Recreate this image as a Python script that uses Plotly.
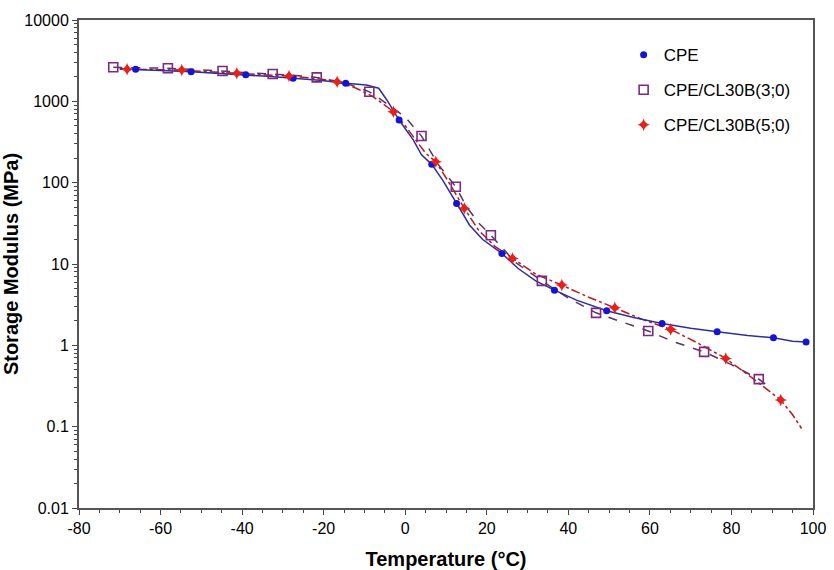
import plotly.graph_objects as go

# ---------------- data ----------------
# CPE (continuous curve + marker points)
cpe_line_T = [-70, -66.1, -60, -52.5, -45, -39.1, -33, -27.5, -21, -14.6, -9.5, -6.5, -4.5, -1.5,
              2, 4, 6.5, 9.3, 12.6, 15.8, 19, 23.7, 27.7, 32, 36.6, 42, 49.4, 56, 63, 70, 76.5,
              84, 90.3, 95, 98.3]
cpe_line_E = [2500, 2480, 2400, 2310, 2200, 2120, 2020, 1920, 1820, 1665, 1585, 1450, 1040, 589,
              334, 220, 168, 105, 55.6, 30, 20, 13.5, 8.8, 6.2, 4.77, 3.6, 2.66, 2.2, 1.86, 1.62, 1.47,
              1.32, 1.24, 1.12, 1.10]
cpe_mark_T = [-66.1, -52.5, -39.1, -27.5, -14.6, -1.5, 6.5, 12.6, 23.7, 36.6, 49.4, 63.0, 76.5, 90.3, 98.3]
cpe_mark_E = [2480, 2310, 2120, 1920, 1665, 589, 168, 55.6, 13.5, 4.77, 2.66, 1.86, 1.47, 1.24, 1.10]

# CPE/CL30B(3;0)
c3_line_T = [-71.6, -65, -58.2, -51, -44.8, -38, -32.5, -27, -21.7, -15, -12, -8.8, -4, 0, 4.0, 8,
             12.4, 15.1, 18, 21.0, 27, 33.5, 40, 46.8, 53, 59.6, 66, 73.3, 80, 86.7, 90]
c3_line_E = [2620, 2580, 2550, 2450, 2360, 2260, 2170, 2080, 1970, 1700, 1500, 1310, 900, 640, 374, 170,
             89, 50, 32, 22.6, 10.5, 6.2, 3.8, 2.51, 1.95, 1.50, 1.1, 0.83, 0.58, 0.384, 0.29]
c3_mark_T = [-71.6, -58.2, -44.8, -32.5, -21.7, -8.8, 4.0, 12.4, 21.0, 33.5, 46.8, 59.6, 73.3, 86.7]
c3_mark_E = [2620, 2550, 2360, 2170, 1970, 1310, 374, 89, 22.6, 6.2, 2.51, 1.50, 0.83, 0.384]

# CPE/CL30B(5;0)
c5_line_T = [-70, -68.2, -61, -54.8, -48, -41.3, -35, -28.5, -22, -16.7, -12, -8, -5, -2.9, 0, 3, 5,
             7.5, 10, 14.5, 18, 22, 26.3, 32, 38.4, 45, 51.4, 58, 65.1, 72, 78.6, 85, 92.1, 95, 97.2]
c5_line_E = [2500, 2480, 2450, 2425, 2300, 2210, 2130, 2050, 1920, 1740, 1450, 1150, 900, 745, 500, 310, 230,
             181, 115, 48.3, 26, 16.5, 11.7, 7.5, 5.5, 3.9, 2.89, 2.1, 1.57, 1.05, 0.69, 0.40, 0.212, 0.14, 0.095]
c5_mark_T = [-68.2, -54.8, -41.3, -28.5, -16.7, -2.9, 7.5, 14.5, 26.3, 38.4, 51.4, 65.1, 78.6, 92.1]
c5_mark_E = [2480, 2425, 2210, 2050, 1740, 745, 181, 48.3, 11.7, 5.5, 2.89, 1.57, 0.69, 0.212]

x_tickvals = [-80, -60, -40, -20, 0, 20, 40, 60, 80, 100]
x_ticktext = ["-80", "-60", "-40", "-20", "0", "20", "40", "60", "80", "100"]
y_tickvals = [0.01, 0.1, 1, 10, 100, 1000, 10000]
y_ticktext = ["0.01", "0.1", "1", "10", "100", "1000", "10000"]

x_minor = [v for v in range(-80, 101, 5) if v % 20 != 0]
y_minor = [m * d for d in [0.01, 0.1, 1, 10, 100, 1000] for m in range(2, 10)]

# ---------------- figure ----------------
fig = go.Figure()

FONT = "Liberation Sans, Arial, sans-serif"

fig.add_trace(go.Scatter(x=c3_line_T, y=c3_line_E, mode="lines", showlegend=False,
                         line=dict(color="#5a3468", width=1.5, dash="dash"), hoverinfo="skip"))
fig.add_trace(go.Scatter(x=c5_line_T, y=c5_line_E, mode="lines", showlegend=False,
                         line=dict(color="#c01818", width=1.5, dash="dashdot"), hoverinfo="skip"))
fig.add_trace(go.Scatter(x=cpe_line_T, y=cpe_line_E, mode="lines", showlegend=False,
                         line=dict(color="#2c2f9e", width=1.5), hoverinfo="skip"))

fig.add_trace(go.Scatter(x=cpe_mark_T, y=cpe_mark_E, mode="markers", name="CPE", legendgroup="a",
                         marker=dict(symbol="circle", size=7, color="#1414d2")))
fig.add_trace(go.Scatter(x=c3_mark_T, y=c3_mark_E, mode="markers", name="CPE/CL30B(3;0)", legendgroup="b",
                         marker=dict(symbol="square-open", size=9, color="#7a2a80", line=dict(width=1.6))))
fig.add_trace(go.Scatter(x=c5_mark_T, y=c5_mark_E, mode="markers", name="CPE/CL30B(5;0)", legendgroup="c",
                         marker=dict(symbol="star-diamond", size=9, color="#e8201a")))

fig.update_layout(
    width=834, height=570,
    margin=dict(l=79, r=21, t=20, b=62),
    paper_bgcolor="white", plot_bgcolor="white",
    font=dict(family=FONT, color="black", size=16),
    legend=dict(x=0.742, y=0.965, xanchor="left", yanchor="top", bgcolor="rgba(0,0,0,0)",
                font=dict(size=17, family=FONT, color="black"), traceorder="grouped",
                tracegroupgap=10, itemsizing="trace"),
    showlegend=True,
)

fig.update_xaxes(
    automargin=False,
    range=[-80, 100], tickmode="array", tickvals=x_tickvals, ticktext=x_ticktext,
    ticks="outside", ticklen=5, tickwidth=1.2,
    tickcolor="#444", showline=True, linecolor="#555", linewidth=2, mirror=True,
    showgrid=False, zeroline=False,
    minor=dict(ticks="outside", tickmode="array", tickvals=x_minor, ticklen=3,
               tickcolor="#444", showgrid=False),
    title=dict(text="<b>Temperature (°C)</b>", font=dict(size=20, family=FONT), standoff=20),
    tickfont=dict(size=16),
)
fig.update_yaxes(
    automargin=False,
    type="log", range=[-2, 4], tickmode="array", tickvals=y_tickvals, ticktext=y_ticktext,
    ticks="outside", ticklen=5, tickwidth=1.2, tickcolor="#444",
    showline=True, linecolor="#555", linewidth=2, mirror=True,
    showgrid=False, zeroline=False,
    minor=dict(ticks="outside", tickmode="array", tickvals=y_minor, ticklen=3,
               tickcolor="#444", showgrid=False),
    title=dict(text="<b>Storage Modulus (MPa)</b>", font=dict(size=20, family=FONT), standoff=8),
    tickfont=dict(size=16),
)

fig.write_html("out.html")
